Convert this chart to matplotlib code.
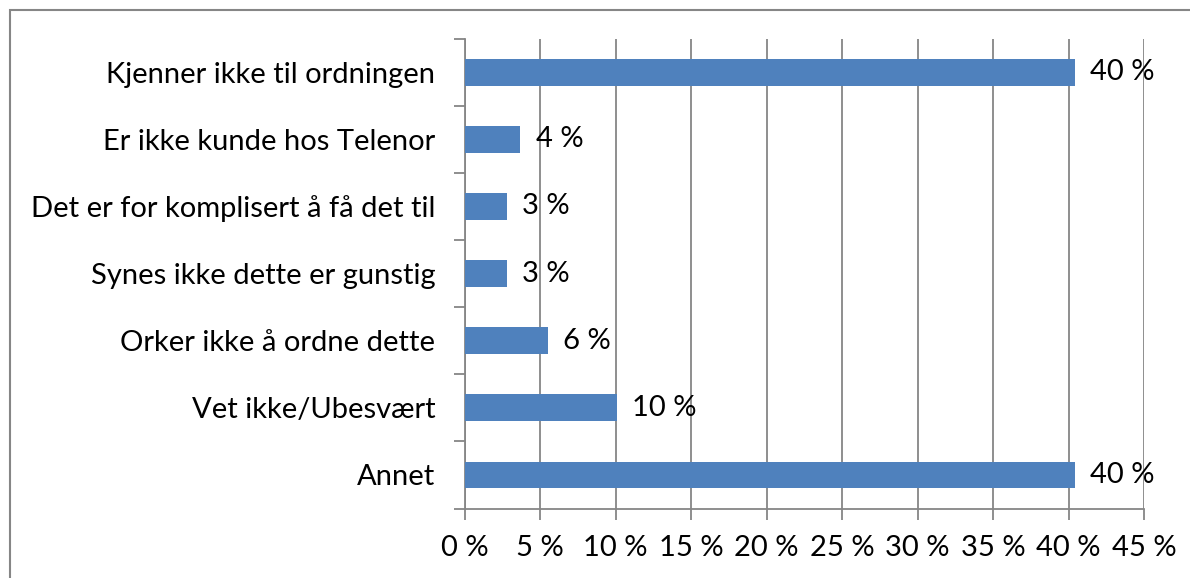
import matplotlib.pyplot as plt
from matplotlib.patches import Rectangle

categories = [
    "Kjenner ikke til ordningen",
    "Er ikke kunde hos Telenor",
    "Det er for komplisert å få det til",
    "Synes ikke dette er gunstig",
    "Orker ikke å ordne dette",
    "Vet ikke/Ubesvært",
    "Annet",
]
shares = [40.4, 3.7, 2.8, 2.8, 5.5, 10.1, 40.4]
x_ticks = [0, 5, 10, 15, 20, 25, 30, 35, 40, 45]

BAR_COLOR = "#4F81BD"
LINE_COLOR = "#868686"
FONT = "Lato"
FS = 21

plt.rcParams["font.family"] = [FONT, "DejaVu Sans"]

fig = plt.figure(figsize=(11.9, 5.78), dpi=100)
ax = fig.add_axes([464.5 / 1190, 1 - 508.5 / 578, (1144 - 464.5) / 1190, (508.5 - 38.5) / 578])

n = len(categories)
ypos = list(range(n))[::-1]
ax.barh(ypos, shares, height=0.4, color=BAR_COLOR, zorder=3)

for y, v in zip(ypos, shares):
    ax.annotate("{:.0f} %".format(v), xy=(v, y), xytext=(11, 0), textcoords="offset points",
                va="center", ha="left", fontsize=FS, color="black", zorder=4)

ax.set_xlim(0, 45)
ax.set_ylim(-0.5, n - 0.5)
ax.set_xticks(x_ticks)
ax.set_xticklabels(["{} %".format(t) for t in x_ticks], fontsize=FS)
ax.set_yticks(ypos)
ax.set_yticklabels(categories, fontsize=FS)

# category boundary ticks on the y axis
ax.set_yticks([i - 0.5 for i in range(n + 1)], minor=True)
ax.tick_params(axis="y", which="major", length=0, pad=21)
ax.tick_params(axis="y", which="minor", length=8, width=1.3, color=LINE_COLOR)
ax.tick_params(axis="x", length=8, width=1.3, color=LINE_COLOR, pad=11)

ax.grid(axis="x", color=LINE_COLOR, linewidth=1.3, zorder=0)
for side in ("top", "right"):
    ax.spines[side].set_visible(False)
for side in ("left", "bottom"):
    ax.spines[side].set_color(LINE_COLOR)
    ax.spines[side].set_linewidth(1.3)

# outer chart frame
fig.patches.append(Rectangle((9.5 / 1190, -1), 2, 2 - 9.5 / 578, transform=fig.transFigure,
                             fill=False, edgecolor=LINE_COLOR, linewidth=1.5))

fig.savefig("out.png", dpi=100)
